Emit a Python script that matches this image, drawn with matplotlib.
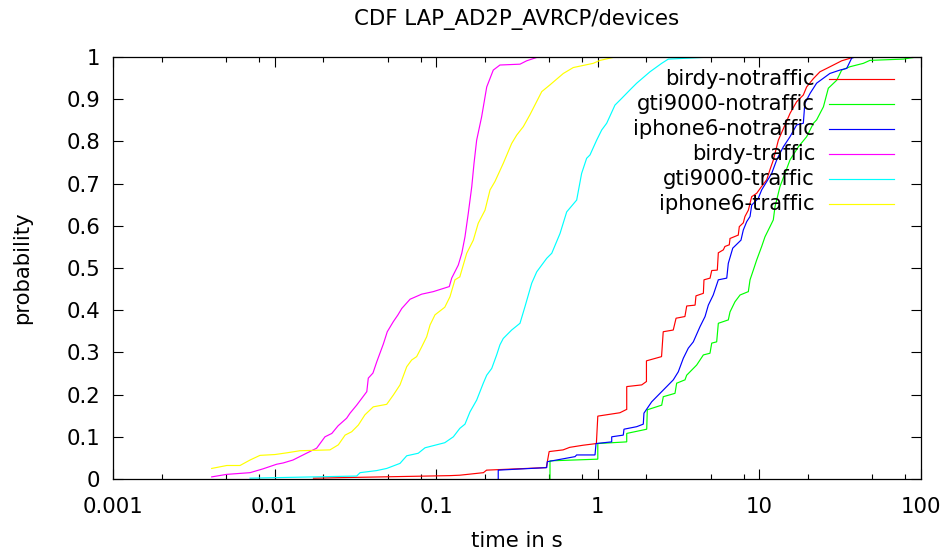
import matplotlib
matplotlib.use("Agg")
import matplotlib.pyplot as plt
from matplotlib.ticker import FixedLocator, NullFormatter

# ---- data (time in s, cumulative probability) ----
birdy_notraffic = [
    (0.0174, 0.002), (0.122, 0.008), (0.140, 0.009), (0.196, 0.015), (0.205, 0.021),
    (0.48, 0.027), (0.50, 0.065), (0.61, 0.069), (0.67, 0.075), (0.81, 0.080),
    (0.98, 0.084), (1.0, 0.149), (1.37, 0.157), (1.51, 0.165), (1.51, 0.219),
    (1.87, 0.223), (2.0, 0.231), (2.0, 0.280), (2.48, 0.290), (2.54, 0.349),
    (2.93, 0.353), (3.05, 0.381), (3.46, 0.385), (3.55, 0.410), (4.0, 0.412),
    (4.05, 0.434), (4.5, 0.440), (4.54, 0.472), (4.95, 0.476), (5.07, 0.494),
    (5.49, 0.495), (5.57, 0.536), (5.98, 0.543), (6.12, 0.551), (6.51, 0.555),
    (6.58, 0.570), (7.40, 0.578), (7.51, 0.598), (7.95, 0.607), (8.14, 0.622),
    (8.54, 0.637), (8.96, 0.669), (9.62, 0.677), (10.3, 0.693), (11.1, 0.709),
    (11.6, 0.732), (12.2, 0.756), (13.1, 0.803), (14.1, 0.831), (15.5, 0.867),
    (17.0, 0.894), (18.7, 0.910), (19.6, 0.929), (21.6, 0.949), (23.7, 0.965),
    (26.1, 0.973), (28.7, 0.981), (32.3, 0.991), (36.4, 0.997), (38.1, 1.0),
]

gti9000_notraffic = [
    (0.506, 0.0), (0.506, 0.043), (1.0, 0.047), (1.0, 0.084), (1.51, 0.088),
    (1.51, 0.108), (2.008, 0.118), (2.024, 0.164), (2.485, 0.175), (2.543, 0.195),
    (3.004, 0.203), (3.076, 0.227), (3.464, 0.235), (3.548, 0.246), (3.995, 0.266),
    (4.09, 0.270), (4.50, 0.294), (4.945, 0.298), (5.07, 0.322), (5.44, 0.325),
    (5.57, 0.369), (6.42, 0.377), (6.58, 0.396), (7.06, 0.420), (7.59, 0.436),
    (8.54, 0.444), (8.75, 0.472), (9.17, 0.495), (9.62, 0.519), (10.33, 0.551),
    (10.83, 0.574), (11.63, 0.598), (12.19, 0.614), (12.49, 0.645), (13.41, 0.693),
    (14.39, 0.724), (15.46, 0.756), (17.41, 0.787), (19.6, 0.811), (21.6, 0.843),
    (22.6, 0.851), (24.9, 0.882), (26.7, 0.926), (30.1, 0.945), (32.3, 0.969),
    (36.4, 0.977), (44.0, 0.985), (48.3, 0.992), (77.6, 0.995), (94.0, 1.0),
]

iphone6_notraffic = [
    (0.242, 0.0), (0.242, 0.021), (0.483, 0.027), (0.487, 0.041), (0.723, 0.053),
    (0.74, 0.057), (0.961, 0.057), (0.975, 0.084), (1.219, 0.088), (1.219, 0.100),
    (1.438, 0.104), (1.452, 0.118), (1.741, 0.124), (1.912, 0.130), (1.93, 0.156),
    (2.156, 0.183), (2.427, 0.203), (2.669, 0.219), (2.933, 0.235), (3.148, 0.254),
    (3.381, 0.286), (3.63, 0.310), (3.90, 0.325), (4.29, 0.361), (4.61, 0.385),
    (4.83, 0.412), (5.18, 0.436), (5.57, 0.472), (6.28, 0.476), (6.42, 0.511),
    (6.84, 0.547), (7.69, 0.566), (7.95, 0.590), (8.35, 0.610), (8.75, 0.622),
    (8.96, 0.649), (9.84, 0.665), (10.33, 0.685), (11.91, 0.724), (12.79, 0.756),
    (13.41, 0.772), (14.06, 0.787), (15.46, 0.811), (17.0, 0.839), (18.7, 0.843),
    (19.1, 0.890), (20.6, 0.914), (22.6, 0.938), (27.3, 0.961), (31.5, 0.969),
    (34.7, 0.973), (37.2, 0.997), (39.1, 1.0),
]

birdy_traffic = [
    (0.00408, 0.005), (0.00506, 0.011), (0.00705, 0.015), (0.00847, 0.024),
    (0.0103, 0.035), (0.0113, 0.038), (0.0130, 0.045), (0.0150, 0.057),
    (0.0182, 0.073), (0.0205, 0.100), (0.0226, 0.108), (0.0247, 0.126),
    (0.0279, 0.144), (0.0293, 0.156), (0.0322, 0.175), (0.0372, 0.207),
    (0.0380, 0.239), (0.0406, 0.251), (0.0429, 0.278), (0.0471, 0.320),
    (0.0498, 0.349), (0.0543, 0.373), (0.0580, 0.389), (0.0612, 0.404),
    (0.0689, 0.426), (0.0813, 0.438), (0.0959, 0.444), (0.1205, 0.456),
    (0.1247, 0.476), (0.137, 0.507), (0.144, 0.535), (0.1507, 0.574),
    (0.158, 0.630), (0.166, 0.693), (0.1714, 0.748), (0.178, 0.803),
    (0.191, 0.858), (0.2054, 0.929), (0.2255, 0.969), (0.248, 0.981),
    (0.330, 0.983), (0.363, 0.991), (0.419, 0.999), (0.557, 1.0),
]

gti9000_traffic = [
    (0.00705, 0.002), (0.0322, 0.007), (0.0338, 0.015), (0.0429, 0.020),
    (0.0494, 0.025), (0.0597, 0.037), (0.0657, 0.055), (0.0774, 0.061),
    (0.0853, 0.074), (0.0959, 0.079), (0.113, 0.086), (0.1277, 0.100),
    (0.140, 0.120), (0.1507, 0.130), (0.1618, 0.159), (0.178, 0.187),
    (0.1956, 0.227), (0.2054, 0.246), (0.2206, 0.262), (0.2366, 0.294),
    (0.248, 0.318), (0.260, 0.333), (0.293, 0.353), (0.330, 0.369),
    (0.354, 0.408), (0.390, 0.464), (0.419, 0.491), (0.483, 0.523),
    (0.519, 0.535), (0.584, 0.582), (0.642, 0.633), (0.740, 0.661),
    (0.794, 0.724), (0.853, 0.760), (0.895, 0.768), (0.984, 0.803),
    (1.057, 0.827), (1.135, 0.843), (1.277, 0.886), (1.406, 0.902),
    (1.581, 0.922), (1.741, 0.938), (2.104, 0.965), (2.485, 0.985),
    (2.73, 0.995), (4.50, 0.999), (4.72, 1.0),
]

iphone6_traffic = [
    (0.00408, 0.025), (0.00506, 0.032), (0.00611, 0.032), (0.00705, 0.045),
    (0.00812, 0.056), (0.01006, 0.058), (0.01189, 0.062), (0.01435, 0.067),
    (0.0220, 0.069), (0.0248, 0.081), (0.0273, 0.104), (0.0300, 0.112),
    (0.0330, 0.128), (0.0362, 0.152), (0.0408, 0.171), (0.0494, 0.177),
    (0.0543, 0.199), (0.0597, 0.223), (0.0657, 0.266), (0.0705, 0.282),
    (0.0757, 0.290), (0.0813, 0.313), (0.0873, 0.337), (0.0916, 0.365),
    (0.0983, 0.389), (0.113, 0.407), (0.1217, 0.432), (0.1306, 0.472),
    (0.140, 0.479), (0.1545, 0.535), (0.1697, 0.566), (0.182, 0.606),
    (0.2005, 0.637), (0.2153, 0.685), (0.231, 0.705), (0.260, 0.748),
    (0.293, 0.795), (0.315, 0.815), (0.346, 0.835), (0.380, 0.863),
    (0.450, 0.918), (0.506, 0.934), (0.612, 0.961), (0.705, 0.975),
    (0.937, 0.985), (1.032, 0.992), (1.247, 0.999), (1.371, 1.0),
]

series_names = ["birdy-notraffic", "gti9000-notraffic", "iphone6-notraffic",
                "birdy-traffic", "gti9000-traffic", "iphone6-traffic"]
series_data = [birdy_notraffic, gti9000_notraffic, iphone6_notraffic,
               birdy_traffic, gti9000_traffic, iphone6_traffic]
series_colors = ["#ff0000", "#00ff00", "#0000ff", "#ff00ff", "#00ffff", "#ffff00"]

x_ticks = [0.001, 0.01, 0.1, 1, 10, 100]
x_tick_labels = ["0.001", "0.01", "0.1", "1", "10", "100"]
y_ticks = [0, 0.1, 0.2, 0.3, 0.4, 0.5, 0.6, 0.7, 0.8, 0.9, 1]
y_tick_labels = ["0", "0.1", "0.2", "0.3", "0.4", "0.5", "0.6", "0.7", "0.8", "0.9", "1"]

FS = 15.3
plt.rcParams['font.family'] = ['DejaVu Sans']

W, H = 948, 556
fig = plt.figure(figsize=(W / 100, H / 100), dpi=100)
L, R, T, B = 113, 921, 57, 479
ax = fig.add_axes([L / W, 1 - B / H, (R - L) / W, (B - T) / H])

for name, data, col in zip(series_names, series_data, series_colors):
    xs = [d[0] for d in data]
    ys = [d[1] for d in data]
    ax.plot(xs, ys, color=col, lw=0.85, solid_joinstyle='miter')

ax.set_xscale('log')
ax.set_xlim(0.001, 100)
ax.set_ylim(0, 1)

ax.xaxis.set_major_locator(FixedLocator(x_ticks))
ax.set_xticklabels(x_tick_labels)
minor = [m * d for d in [0.001, 0.01, 0.1, 1, 10] for m in (2, 5, 8)]
ax.xaxis.set_minor_locator(FixedLocator(minor))
ax.xaxis.set_minor_formatter(NullFormatter())
ax.set_yticks(y_ticks)
ax.set_yticklabels(y_tick_labels)

ax.tick_params(which='major', direction='in', top=True, right=True,
               length=7, width=0.8, labelsize=FS, colors='black')
ax.tick_params(axis='x', which='major', pad=13)
ax.tick_params(axis='y', which='major', pad=9)
ax.tick_params(which='minor', direction='in', top=True, right=True,
               length=3.5, width=0.8)
for s in ax.spines.values():
    s.set_linewidth(0.9)
    s.set_color('black')

# gnuplot-style key: right-aligned text with line sample to the right
kx_text = (815 - L) / (R - L)
kx0 = (829 - L) / (R - L)
kx1 = (894 - L) / (R - L)
ky0 = (B - 79.3) / (B - T)
dy = 25 / (B - T)
for i, (name, col) in enumerate(zip(series_names, series_colors)):
    yy = ky0 - i * dy
    ax.text(kx_text, yy, name, transform=ax.transAxes, ha='right', va='center',
            fontsize=FS)
    ax.plot([kx0, kx1], [yy, yy], transform=ax.transAxes, color=col, lw=0.85,
            clip_on=False)

fig.text(517 / W, 1 - 20 / H, "CDF LAP_AD2P_AVRCP/devices", ha='center',
         va='center', fontsize=FS)
fig.text(517 / W, 1 - 541 / H, "time in s", ha='center', va='center', fontsize=FS)
fig.text(22 / W, 1 - 268 / H, "probability", ha='center', va='center',
         rotation=90, fontsize=FS)

fig.savefig("out.png", dpi=100)
